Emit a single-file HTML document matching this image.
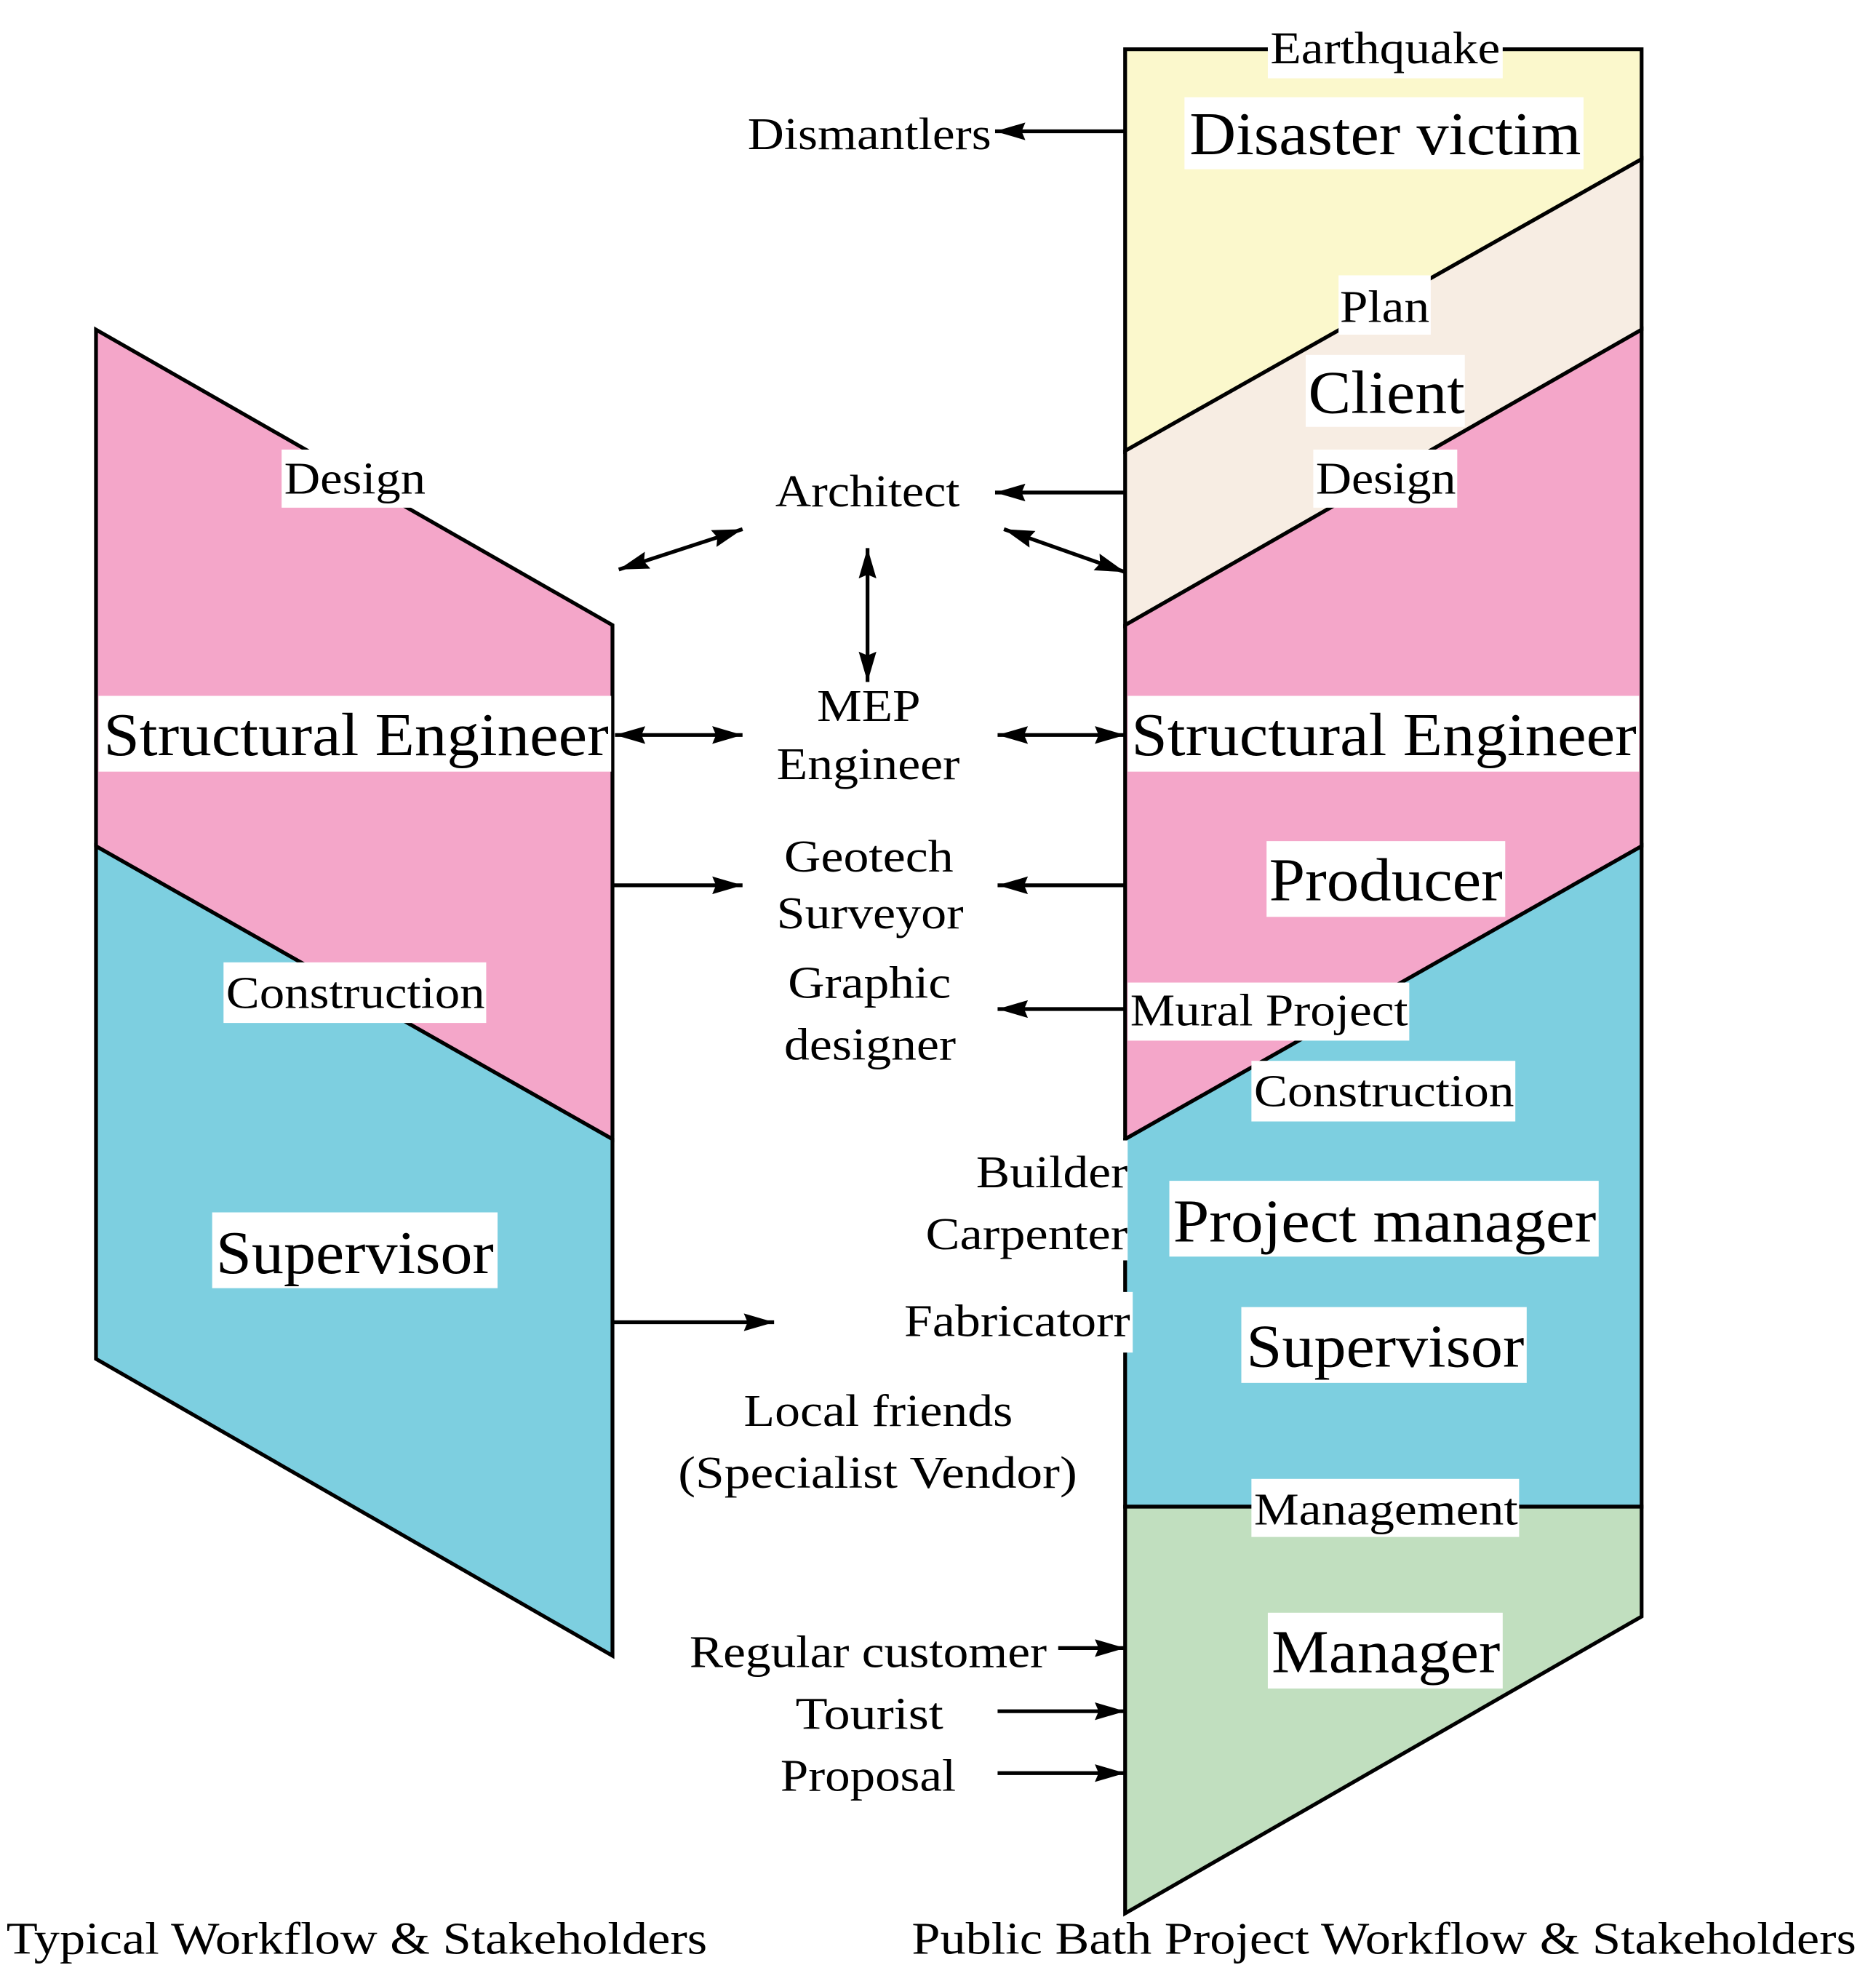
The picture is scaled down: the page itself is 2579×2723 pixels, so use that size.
<!DOCTYPE html>
<html><head><meta charset="utf-8"><style>html,body{margin:0;padding:0;background:#fff}svg{display:block}</style></head><body>
<svg width="2579" height="2723" viewBox="0 0 1485.6 1568.6" xmlns="http://www.w3.org/2000/svg" font-family="'Liberation Serif', 'Times New Roman', serif">
<defs>
<marker id="b" viewBox="0 0 24 14" refX="24" refY="7" markerWidth="24" markerHeight="14" markerUnits="userSpaceOnUse" orient="auto-start-reverse"><path d="M0,0 L24,7 L0,14 L3,7 z" fill="#000"/></marker></defs>
<g stroke="#000" stroke-width="3" stroke-linejoin="miter">
<polygon points="76,261 485,495 485,902 76,670" fill="#f4a6c9"/>
<polygon points="76,670 485,902 485,1311 76,1076" fill="#7dcfe0"/>
<polygon points="891,39 1300,39 1300,126 891,357" fill="#fbf8cc"/>
<polygon points="891,357 1300,126 1300,261 891,495" fill="#f7ede3"/>
<polygon points="891,495 1300,261 1300,670 891,902" fill="#f4a6c9"/>
<polygon points="891,902 1300,670 1300,1193 891,1193" fill="#7dcfe0"/>
<polygon points="891,1193 1300,1193 1300,1280 891,1515" fill="#c1dfbf"/>
</g>
<g stroke="#000" stroke-width="3" fill="none">
<line x1="891" y1="104" x2="788" y2="104" marker-end="url(#b)"/>
<line x1="891" y1="390" x2="788" y2="390" marker-end="url(#b)"/>
<line x1="490" y1="451" x2="588" y2="419" marker-end="url(#b)" marker-start="url(#b)"/>
<line x1="795" y1="419" x2="891" y2="453" marker-end="url(#b)" marker-start="url(#b)"/>
<line x1="687" y1="434" x2="687" y2="540" marker-end="url(#b)" marker-start="url(#b)"/>
<line x1="487" y1="582" x2="588" y2="582" marker-end="url(#b)" marker-start="url(#b)"/>
<line x1="790" y1="582" x2="891" y2="582" marker-end="url(#b)" marker-start="url(#b)"/>
<line x1="485" y1="701" x2="588" y2="701" marker-end="url(#b)"/>
<line x1="891" y1="701" x2="790" y2="701" marker-end="url(#b)"/>
<line x1="891" y1="799" x2="790" y2="799" marker-end="url(#b)"/>
<line x1="485" y1="1047" x2="613" y2="1047" marker-end="url(#b)"/>
<line x1="838" y1="1305" x2="891" y2="1305" marker-end="url(#b)"/>
<line x1="790" y1="1355" x2="891" y2="1355" marker-end="url(#b)"/>
<line x1="790" y1="1404" x2="891" y2="1404" marker-end="url(#b)"/>
</g>
<g fill="#fff">
<rect x="1004" y="20" width="186" height="42"/>
<rect x="938" y="77" width="316" height="57"/>
<rect x="1060" y="218" width="73" height="47"/>
<rect x="1034" y="281" width="126" height="57"/>
<rect x="1040" y="356" width="114" height="46"/>
<rect x="223" y="356" width="115" height="46"/>
<rect x="78" y="551" width="406" height="60"/>
<rect x="893" y="551" width="405" height="60"/>
<rect x="1003" y="666" width="189" height="60"/>
<rect x="893" y="778" width="223" height="46"/>
<rect x="991" y="840" width="209" height="48"/>
<rect x="177" y="762" width="208" height="48"/>
<rect x="926" y="935" width="340" height="60"/>
<rect x="715" y="1023" width="182" height="48"/>
<rect x="983" y="1035" width="226" height="60"/>
<rect x="168" y="960" width="226" height="60"/>
<rect x="991" y="1171" width="212" height="46"/>
<rect x="1004" y="1277" width="186" height="60"/>
<rect x="885" y="903" width="8" height="95"/>
</g>
<g font-size="36" fill="#000">
<text x="1006" y="50" textLength="182" lengthAdjust="spacingAndGlyphs">Earthquake</text>
<text x="592" y="118" textLength="193" lengthAdjust="spacingAndGlyphs">Dismantlers</text>
<text x="1061" y="255" textLength="71" lengthAdjust="spacingAndGlyphs">Plan</text>
<text x="1042" y="391" textLength="111" lengthAdjust="spacingAndGlyphs">Design</text>
<text x="225" y="391" textLength="112" lengthAdjust="spacingAndGlyphs">Design</text>
<text x="614" y="401" textLength="146" lengthAdjust="spacingAndGlyphs">Architect</text>
<text x="647" y="571" textLength="82" lengthAdjust="spacingAndGlyphs">MEP</text>
<text x="615" y="617" textLength="145" lengthAdjust="spacingAndGlyphs">Engineer</text>
<text x="621" y="690" textLength="134" lengthAdjust="spacingAndGlyphs">Geotech</text>
<text x="615" y="735" textLength="148" lengthAdjust="spacingAndGlyphs">Surveyor</text>
<text x="624" y="790" textLength="129" lengthAdjust="spacingAndGlyphs">Graphic</text>
<text x="621" y="839" textLength="136" lengthAdjust="spacingAndGlyphs">designer</text>
<text x="895" y="812" textLength="220" lengthAdjust="spacingAndGlyphs">Mural Project</text>
<text x="993" y="876" textLength="206" lengthAdjust="spacingAndGlyphs">Construction</text>
<text x="179" y="798" textLength="205" lengthAdjust="spacingAndGlyphs">Construction</text>
<text x="773" y="940" textLength="120" lengthAdjust="spacingAndGlyphs">Builder</text>
<text x="733" y="989" textLength="160" lengthAdjust="spacingAndGlyphs">Carpenter</text>
<text x="716" y="1058" textLength="179" lengthAdjust="spacingAndGlyphs">Fabricatorr</text>
<text x="589" y="1129" textLength="213" lengthAdjust="spacingAndGlyphs">Local friends</text>
<text x="537" y="1178" textLength="316" lengthAdjust="spacingAndGlyphs">(Specialist Vendor)</text>
<text x="993" y="1207" textLength="209" lengthAdjust="spacingAndGlyphs">Management</text>
<text x="546" y="1320" textLength="283" lengthAdjust="spacingAndGlyphs">Regular customer</text>
<text x="630" y="1369" textLength="117" lengthAdjust="spacingAndGlyphs">Tourist</text>
<text x="618" y="1418" textLength="139" lengthAdjust="spacingAndGlyphs">Proposal</text>
<text x="5" y="1547" textLength="555" lengthAdjust="spacingAndGlyphs">Typical Workflow &amp; Stakeholders</text>
<text x="722" y="1547" textLength="748" lengthAdjust="spacingAndGlyphs">Public Bath Project Workflow &amp; Stakeholders</text>
</g>
<g font-size="48" fill="#000">
<text x="942" y="122" textLength="310" lengthAdjust="spacingAndGlyphs">Disaster victim</text>
<text x="1036" y="327" textLength="124" lengthAdjust="spacingAndGlyphs">Client</text>
<text x="82" y="598" textLength="400" lengthAdjust="spacingAndGlyphs">Structural Engineer</text>
<text x="896" y="598" textLength="400" lengthAdjust="spacingAndGlyphs">Structural Engineer</text>
<text x="1005" y="713" textLength="185" lengthAdjust="spacingAndGlyphs">Producer</text>
<text x="929" y="983" textLength="335" lengthAdjust="spacingAndGlyphs">Project manager</text>
<text x="987" y="1082" textLength="220" lengthAdjust="spacingAndGlyphs">Supervisor</text>
<text x="171" y="1008" textLength="220" lengthAdjust="spacingAndGlyphs">Supervisor</text>
<text x="1007" y="1324" textLength="181" lengthAdjust="spacingAndGlyphs">Manager</text>
</g>
</svg>
</body></html>
